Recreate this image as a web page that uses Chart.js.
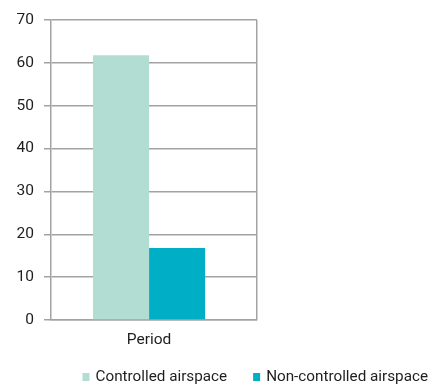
<!DOCTYPE html>
<html>
<head>
<meta charset="utf-8">
<script src="https://cdn.jsdelivr.net/npm/chart.js@4/dist/chart.umd.min.js"></script>
<style>
  html, body { margin: 0; padding: 0; background: #ffffff; }
  #wrap { width: 433px; height: 385px; position: relative; }
</style>
</head>
<body>
<div id="wrap"><canvas id="chart" width="433" height="385"></canvas></div>
<script>
// Categories and series
const categories = ['Period'];
const seriesNames = ['Controlled airspace', 'Non-controlled airspace'];
const controlledValues = [61.8];
const nonControlledValues = [16.8];
const yTicks = [0, 10, 20, 30, 40, 50, 60, 70];

const gridColor = '#a3a3a3';
const textColor = '#1e1e1e';
const fontFamily = 'Roboto, "Noto Sans", sans-serif';
const fontSize = 15.5;
const legendFontSize = 15.25;

// Legend row drawn right-aligned along the bottom edge
const bottomLegend = {
  id: 'bottomLegend',
  afterDraw(chart) {
    const ctx = chart.ctx;
    const box = { w: 7, h: 8 };
    const boxGap = 6;      // box to text
    const itemGap = 26;    // between items
    const rightEdge = 428;
    const midY = 377;
    ctx.save();
    ctx.font = legendFontSize + 'px ' + fontFamily;
    ctx.textBaseline = 'middle';
    ctx.textAlign = 'left';
    const items = chart.data.datasets.map(ds => ({
      text: ds.label,
      color: ds.backgroundColor,
      width: box.w + boxGap + ctx.measureText(ds.label).width
    }));
    const total = items.reduce((s, it) => s + it.width, 0) + itemGap * (items.length - 1);
    let x = rightEdge - total;
    items.forEach(it => {
      ctx.fillStyle = it.color;
      ctx.fillRect(x, midY - box.h / 2, box.w, box.h);
      ctx.fillStyle = textColor;
      ctx.fillText(it.text, x + box.w + boxGap, midY);
      x += it.width + itemGap;
    });
    ctx.restore();
  }
};

new Chart(document.getElementById('chart'), {
  type: 'bar',
  data: {
    labels: categories,
    datasets: [
      {
        label: seriesNames[0],
        data: controlledValues,
        backgroundColor: '#b2ddd3',
        borderWidth: 0,
        barPercentage: 1,
        categoryPercentage: 0.544
      },
      {
        label: seriesNames[1],
        data: nonControlledValues,
        backgroundColor: '#00aec6',
        borderWidth: 0,
        barPercentage: 1,
        categoryPercentage: 0.544
      }
    ]
  },
  plugins: [bottomLegend],
  options: {
    responsive: false,
    animation: false,
    devicePixelRatio: 1,
    layout: { padding: { left: 0, top: 20, right: 0, bottom: 0 } },
    plugins: {
      tooltip: { enabled: false },
      legend: { display: false }
    },
    scales: {
      x: {
        grid: { display: true, color: gridColor, lineWidth: 1.5, drawTicks: false },
        border: { display: true, color: gridColor, width: 1.5 },
        ticks: { color: textColor, font: { family: fontFamily, size: fontSize }, padding: 11 },
        // the bar group sits a little left of the plot's middle
        afterBuildTicks(scale) { scale._startValue = -0.476; },
        afterFit(scale) { scale.height = 65; }
      },
      y: {
        min: 0,
        max: 70,
        afterBuildTicks(scale) { scale.ticks = yTicks.map(v => ({ value: v })); },
        grid: { color: gridColor, lineWidth: 1.5, tickLength: 7 },
        border: { display: true, color: gridColor, width: 1.5 },
        ticks: { color: textColor, font: { family: fontFamily, size: fontSize }, padding: 10 },
        afterFit(scale) { scale.width = 51; }
      },
      // empty right-hand axis that reserves the space beside the plot
      yRight: {
        position: 'right',
        min: 0,
        max: 70,
        grid: { display: false },
        border: { display: false },
        ticks: { display: false },
        afterFit(scale) { scale.width = 176; }
      }
    }
  }
});
</script>
</body>
</html>
